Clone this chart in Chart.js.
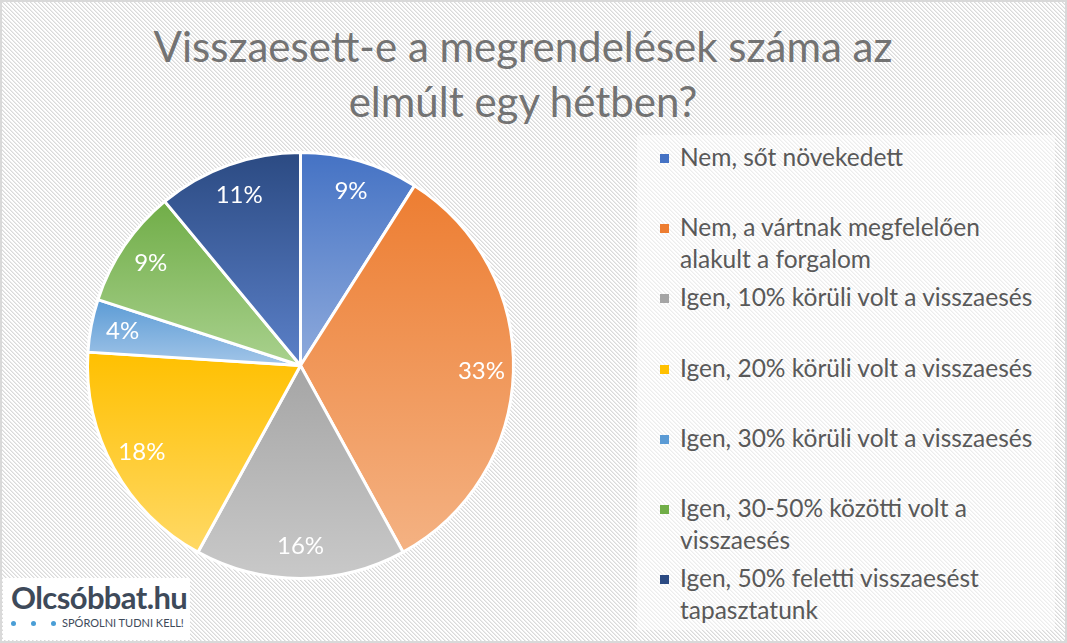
<!DOCTYPE html>
<html lang="hu">
<head>
<meta charset="utf-8">
<title>Visszaesett-e a megrendelések száma</title>
<script src="https://cdn.jsdelivr.net/npm/chart.js@4/dist/chart.umd.min.js"></script>
<style>
    html, body {
        margin: 0;
        padding: 0;
    }
    body {
        width: 1067px;
        height: 643px;
        position: relative;
        overflow: hidden;
        font-family: Lato, "Noto Sans", sans-serif;
        background-color: #ffffff;
        background-image: url("data:image/svg+xml,%3Csvg xmlns='http://www.w3.org/2000/svg' width='4' height='4' shape-rendering='crispEdges'%3E%3Crect x='0' y='0' width='1' height='1' fill='%23dadada'/%3E%3Crect x='1' y='1' width='1' height='1' fill='%23dadada'/%3E%3Crect x='2' y='2' width='1' height='1' fill='%23dadada'/%3E%3Crect x='3' y='3' width='1' height='1' fill='%23dadada'/%3E%3Crect x='1' y='0' width='1' height='1' fill='%23ececec'/%3E%3Crect x='2' y='1' width='1' height='1' fill='%23ececec'/%3E%3Crect x='3' y='2' width='1' height='1' fill='%23ececec'/%3E%3Crect x='0' y='3' width='1' height='1' fill='%23ececec'/%3E%3C/svg%3E");
        background-size: 4px 4px;
    }
    #frame {
        position: absolute;
        left: 0; top: 0;
        width: 1063px; height: 639px;
        border: 2px solid #d9d9d9;
    }
    #title {
        position: absolute;
        left: 0; top: 19px;
        width: 1046px;
        text-align: center;
        font-size: 42px;
        line-height: 55px;
        color: #737373;
    }
    #legendBox {
        position: absolute;
        left: 637px; top: 135px;
        width: 418px; height: 495px;
        background: rgba(255, 255, 255, 0.5);
    }
    .legend-item {
        position: absolute;
        left: 660px;
        display: flex;
        align-items: flex-start;
    }
    .legend-item .swatch {
        width: 9px;
        height: 9px;
        margin-top: 13px;
        margin-right: 11px;
    }
    .legend-item .text {
        font-size: 24.5px;
        line-height: 32px;
        color: #595959;
        white-space: nowrap;
    }
    #chart {
        position: absolute;
        left: 0; top: 0;
    }
    #logo {
        position: absolute;
        left: 3px; top: 578px;
        width: 187px; height: 62px;
        background: #ffffff;
        color: #3e4a5a;
    }
    #logo .name {
        position: absolute;
        left: 8px; top: 0px;
        font-size: 31px;
        font-weight: 700;
        letter-spacing: -0.6px;
    }
    #logo .dot {
        position: absolute;
        top: 43px;
        width: 5px; height: 5px;
        border-radius: 50%;
        background: #4a9ed6;
    }
    #logo .tag {
        position: absolute;
        left: 59px; top: 37px;
        font-size: 11px;
        line-height: 16px;
        white-space: nowrap;
    }
</style>
</head>
<body>
<div id="frame"></div>
<div id="title">Visszaesett-e a megrendelések száma az<br>elmúlt egy hétben?</div>
<div id="legendBox"></div>
<div id="legend"></div>
<canvas id="chart" width="1067" height="643"></canvas>
<div id="logo">
    <div class="name">Olcsóbbat.hu</div>
    <span class="dot" style="left:8px"></span>
    <span class="dot" style="left:28px"></span>
    <span class="dot" style="left:48px"></span>
    <div class="tag">SPÓROLNI TUDNI KELL!</div>
</div>

<script>
// ===============================
// DATA
// ===============================
const categories = [
    ["Nem, sőt növekedett"],
    ["Nem, a vártnak megfelelően", "alakult a forgalom"],
    ["Igen, 10% körüli volt a visszaesés"],
    ["Igen, 20% körüli volt a visszaesés"],
    ["Igen, 30% körüli volt a visszaesés"],
    ["Igen, 30-50% közötti volt a", "visszaesés"],
    ["Igen, 50% feletti visszaesést", "tapasztatunk"]
];

// share of answers, percent
const values = [9, 33, 16, 18, 4, 9, 11];

// dark (top) and light (bottom) end of each slice gradient
const darkColors = ["#4472c4", "#ed7d31", "#a5a5a5", "#ffc000", "#5b9bd5", "#70ad47", "#2b4a82"];
const lightColors = ["#8eaadc", "#f4b283", "#c9c9c9", "#ffd966", "#a2c5e8", "#a9d18e", "#5b80c8"];

// ===============================
// LEGEND
// ===============================
const legend = document.getElementById("legend");

categories.forEach((lines, index) => {
    legend.innerHTML += `
        <div class="legend-item" style="top:${141 + index * 70.17}px">
            <span class="swatch" style="background:${darkColors[index]}"></span>
            <span class="text">${lines.join("<br>")}</span>
        </div>
    `;
});

// ===============================
// SLICE GRADIENT
// ===============================
function sliceGradient(context) {
    const chart = context.chart;
    const area = chart.chartArea;
    const i = context.dataIndex;

    if (!area || i === undefined) {
        return darkColors[i] || darkColors[0];
    }

    const cx = (area.left + area.right) / 2;
    const cy = (area.top + area.bottom) / 2;
    const r = Math.min(area.width, area.height) / 2;

    const total = values.reduce((a, b) => a + b, 0);
    let before = 0;
    for (let j = 0; j < i; j++) before += values[j];

    const a0 = -Math.PI / 2 + before / total * Math.PI * 2;
    const a1 = a0 + values[i] / total * Math.PI * 2;

    let ys = [cy, cy + r * Math.sin(a0), cy + r * Math.sin(a1)];
    [Math.PI / 2, Math.PI * 1.5].forEach(k => {
        if (k >= a0 && k <= a1) ys.push(cy + r * Math.sin(k));
    });

    const top = Math.min(...ys);
    const bottom = Math.max(...ys);

    const g = chart.ctx.createLinearGradient(0, top, 0, bottom);
    g.addColorStop(0, darkColors[i]);
    g.addColorStop(1, lightColors[i]);
    return g;
}

// ===============================
// PERCENT LABELS
// ===============================
const percentLabels = {
    id: "percentLabels",
    afterDatasetsDraw(chart) {
        const ctx = chart.ctx;
        const meta = chart.getDatasetMeta(0);

        ctx.save();
        ctx.fillStyle = "#ffffff";
        ctx.font = "24px Lato, 'Noto Sans', sans-serif";
        ctx.textAlign = "center";
        ctx.textBaseline = "middle";

        meta.data.forEach((arc, index) => {
            const p = arc.getProps(["x", "y", "startAngle", "endAngle", "outerRadius"], true);
            const mid = (p.startAngle + p.endAngle) / 2;
            const d = p.outerRadius * 0.85;
            ctx.fillText(values[index] + "%", p.x + Math.cos(mid) * d, p.y + Math.sin(mid) * d);
        });

        ctx.restore();
    }
};

// ===============================
// PIE CHART
// ===============================
const ctx = document.getElementById("chart").getContext("2d");

const pieChart = new Chart(ctx, {
    type: "pie",
    data: {
        labels: categories,
        datasets: [{
            data: values,
            backgroundColor: sliceGradient,
            borderColor: "#ffffff",
            borderWidth: 3
        }]
    },
    options: {
        responsive: false,
        devicePixelRatio: 1,
        animation: false,
        layout: {
            padding: { left: 86, top: 151, right: 552, bottom: 63 }
        },
        plugins: {
            legend: { display: false },
            title: { display: false },
            tooltip: { enabled: false }
        }
    },
    plugins: [percentLabels]
});
</script>
</body>
</html>
